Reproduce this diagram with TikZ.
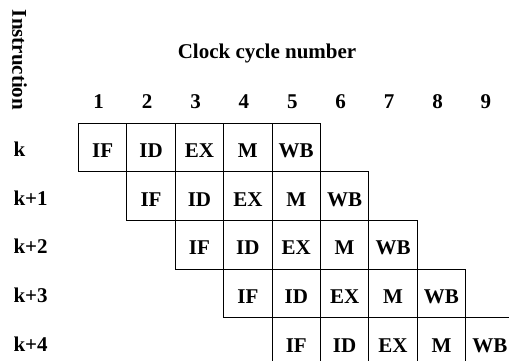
\documentclass[tikz,border=0pt]{standalone}
\usepackage{fontspec}
\setmainfont{Liberation Serif}
\begin{document}
\begin{tikzpicture}[x=1pt, y=-1pt,
  txt/.style={font=\bfseries\fontsize{21}{25}\selectfont, inner sep=0pt},
  stagebox/.style={txt, draw, line width=0.9pt, minimum width=48.4pt,
    minimum height=48.65pt, anchor=north west, text height=20pt, text depth=0pt},
]
  % page frame and clipping
  \clip (0,0) rectangle (509,360);
  \fill[white] (0,0) rectangle (509,360);

  % axis titles
  \node[txt, rotate=-90, anchor=base] (instr) at (12.5,60) {Instruction};
  \node[txt, anchor=base] (clock) at (267,58) {Clock cycle number};

  % cycle numbers
  \foreach \c in {1,...,9} {
    \node[txt, anchor=base] (cyc\c) at ({78+(\c-1)*48.4+24.2-3.5},108.3) {\c};
  }

  % instruction labels
  \foreach \r/\lab in {0/k, 1/k+1, 2/k+2, 3/k+3, 4/k+4} {
    \node[txt, anchor=base west] (ins\r) at (13.3,{122.7+\r*48.65+24.3+9.4}) {\lab};
  }

  % pipeline stages, one row per instruction
  \foreach \r in {0,...,4} {
    \foreach \s/\st in {0/IF, 1/ID, 2/EX, 3/M, 4/WB} {
      \node[stagebox] (cell\r\s) at ({78+(\r+\s)*48.4},{122.7+\r*48.65}) {\st};
    }
  }
\end{tikzpicture}
\end{document}
